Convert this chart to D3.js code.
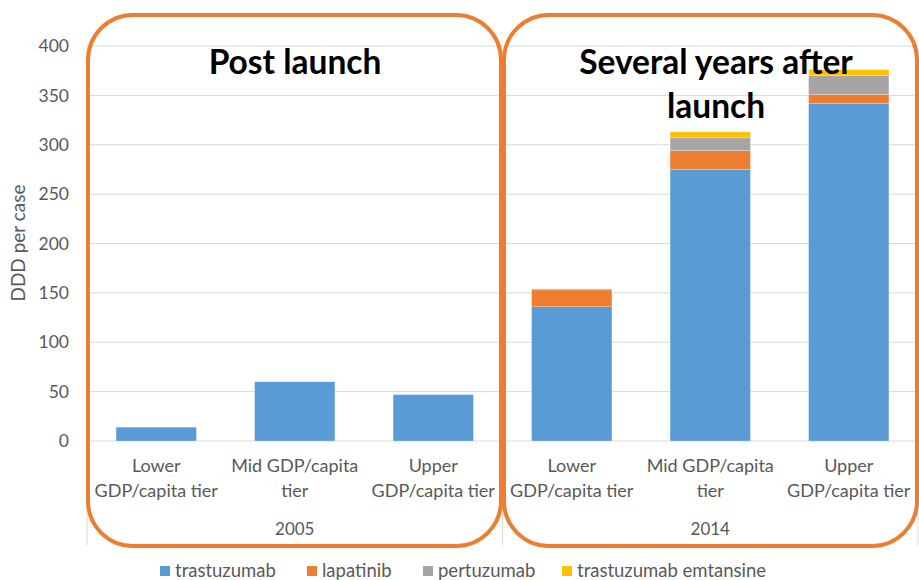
<!DOCTYPE html>
<html><head><meta charset="utf-8">
<script src="https://cdn.jsdelivr.net/npm/d3@7"></script>
<style>body{margin:0;background:#fff;}svg{display:block;font-family:Lato,"Open Sans",sans-serif;}</style>
</head><body><svg id="c" width="919" height="580"></svg>
<script>
const years = ["2005", "2014"];
const tiers = [["Lower", "GDP/capita tier"], ["Mid GDP/capita", "tier"], ["Upper", "GDP/capita tier"]];
const seriesNames = ["trastuzumab", "lapatinib", "pertuzumab", "trastuzumab emtansine"];
const seriesColors = ["#5B9BD5", "#ED7D31", "#A5A5A5", "#FFC000"];
const trastuzumab = [14, 60, 47, 136, 275, 342];
const lapatinib = [0, 0, 0, 17, 19, 9];
const pertuzumab = [0, 0, 0, 1, 13, 19];
const tdm1 = [0, 0, 0, 0, 6, 6];
const yTicks = [0, 50, 100, 150, 200, 250, 300, 350, 400];
const panelTitles = [["Post launch"], ["Several years after", "launch"]];

const svg = d3.select("#c");
const L = 87, R = 918, T = 46, B = 441;
const cats = d3.range(6);
const x = d3.scaleBand().domain(cats).range([L, R]).paddingInner(0.42).paddingOuter(0.21);
const y = d3.scaleLinear().domain([0, 400]).range([B, T]);

// gridlines
svg.append("g").selectAll("line").data(yTicks).join("line")
  .attr("x1", L - 1).attr("x2", R + 1).attr("y1", d => y(d)).attr("y2", d => y(d))
  .attr("stroke", "#d9d9d9").attr("stroke-width", 1);
// tick labels
svg.append("g").selectAll("text").data(yTicks).join("text")
  .attr("x", 69).attr("y", d => y(d)).attr("dy", "0.35em").attr("text-anchor", "end")
  .attr("font-size", 17.5).attr("fill", "#595959").text(d => d);
// y label
svg.append("text").attr("transform", "translate(25,243) rotate(-90)").attr("text-anchor", "middle")
  .attr("font-size", 19).attr("fill", "#595959").text("DDD per case");

// group separators
const bounds = [L, (L + R) / 2, R];
svg.append("g").selectAll("line").data(bounds).join("line")
  .attr("x1", d => d).attr("x2", d => d).attr("y1", B).attr("y2", 545)
  .attr("stroke", "#d9d9d9");

// stacked bars
const rows = cats.map(i => ({i, trastuzumab: trastuzumab[i], lapatinib: lapatinib[i], pertuzumab: pertuzumab[i], "trastuzumab emtansine": tdm1[i]}));
const stack = d3.stack().keys(seriesNames)(rows);
svg.append("g").selectAll("g").data(stack).join("g").attr("fill", (d, k) => seriesColors[k])
  .selectAll("rect").data(d => d.filter(s => s[1] - s[0] > 0)).join("rect")
  .attr("x", d => x(d.data.i)).attr("width", x.bandwidth())
  .attr("y", d => y(d[1])).attr("height", d => y(d[0]) - y(d[1]))
  .attr("stroke", "#ffffff").attr("stroke-opacity", 0.4).attr("stroke-width", 0.6);

// category labels
const catG = svg.append("g");
cats.forEach(i => {
  const t = tiers[i % 3];
  t.forEach((line, j) => {
    catG.append("text").attr("x", x(i) + x.bandwidth() / 2).attr("y", 472 + j * 25)
      .attr("text-anchor", "middle").attr("font-size", 18).attr("fill", "#595959").text(line);
  });
});
years.forEach((yr, k) => {
  svg.append("text").attr("x", (bounds[k] + bounds[k + 1]) / 2).attr("y", 535)
    .attr("text-anchor", "middle").attr("font-size", 17).attr("fill", "#595959").text(yr);
});

// orange rounded boxes
const boxes = [[88, 15, 413, 531], [504, 15, 413, 531]];
svg.append("g").selectAll("rect").data(boxes).join("rect")
  .attr("x", d => d[0]).attr("y", d => d[1]).attr("width", d => d[2]).attr("height", d => d[3])
  .attr("rx", 45).attr("ry", 45).attr("fill", "none").attr("stroke", "#ED7D31").attr("stroke-width", 4);

// panel titles
const tcx = [295, 716];
panelTitles.forEach((lines, k) => {
  lines.forEach((ln, j) => {
    svg.append("text").attr("x", tcx[k]).attr("y", 74 + j * 44).attr("text-anchor", "middle")
      .attr("font-size", 33.5).attr("font-weight", "bold").attr("fill", "#000").text(ln);
  });
});

// legend
const legX = [160, 307, 423, 562];
const lg = svg.append("g");
seriesNames.forEach((s, k) => {
  lg.append("rect").attr("x", legX[k]).attr("y", 566).attr("width", 10).attr("height", 10).attr("fill", seriesColors[k]);
  lg.append("text").attr("x", legX[k] + 15).attr("y", 577).attr("font-size", 18.5).attr("fill", "#595959").text(s);
});
</script></body></html>
